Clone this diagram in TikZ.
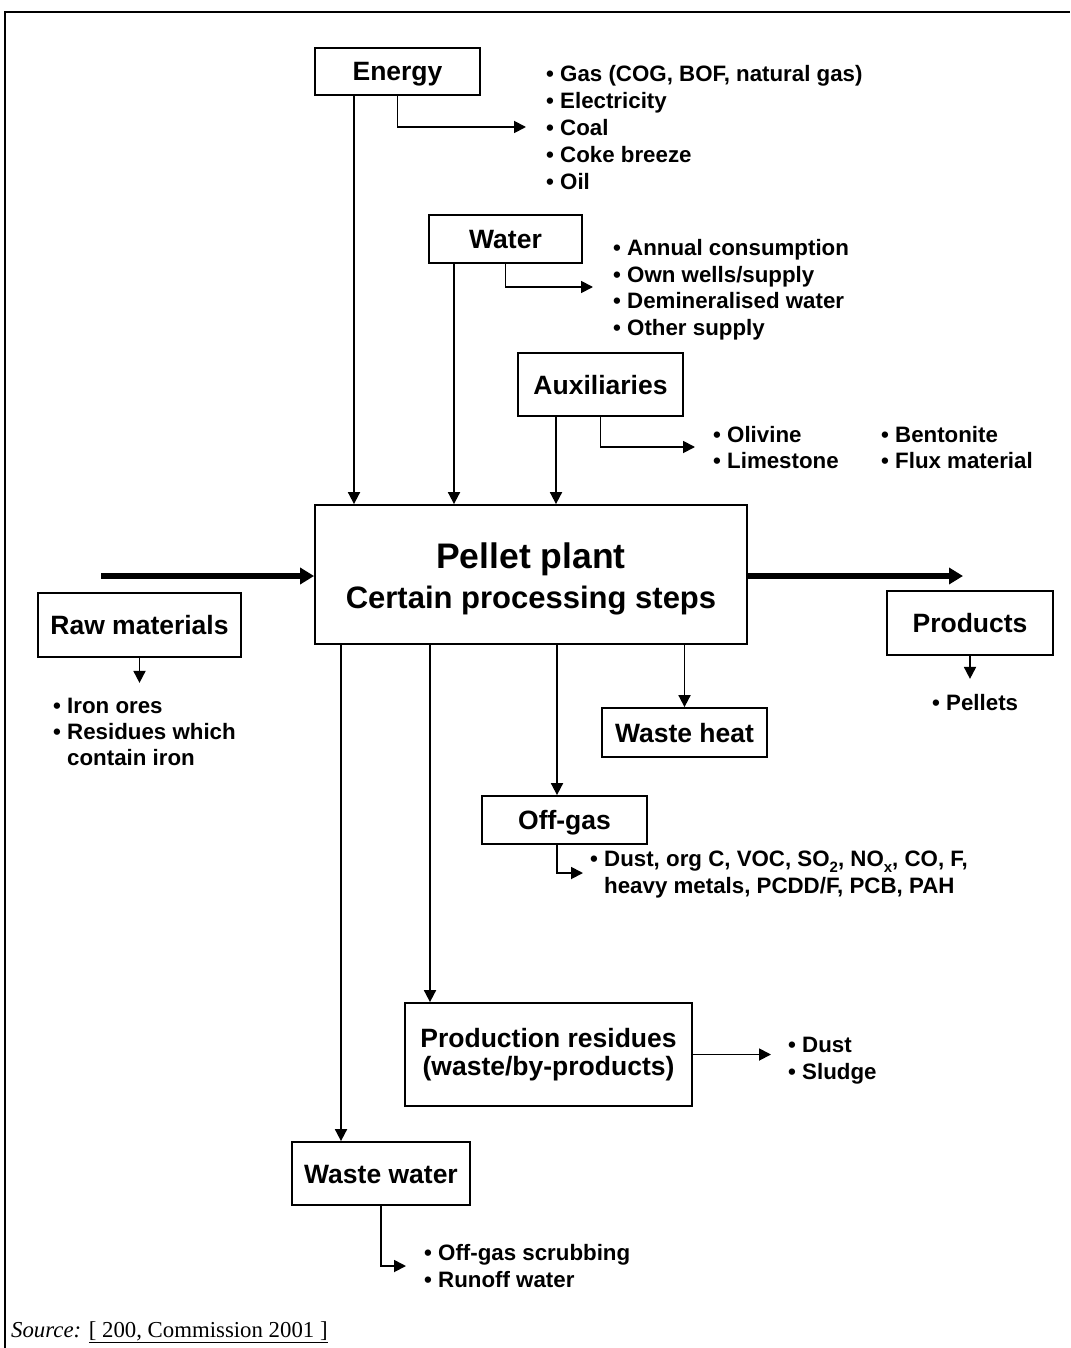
\documentclass[tikz,border=0pt]{standalone}
\usepackage{fontspec}
\setmainfont{Liberation Sans}
\newfontfamily\srcfont{Liberation Serif}
\usetikzlibrary{arrows.meta}
\newcommand{\boxfont}{\fontsize{26.5}{28}\selectfont\bfseries}
\newcommand{\bulfont}{\fontsize{22.3}{26.5}\selectfont\bfseries}
\newcommand{\lowsub}[1]{\raisebox{-0.28em}{\fontsize{15}{15}\selectfont #1}}
\tikzset{
  box/.style={draw, line width=1.8pt, inner sep=0pt, font=\boxfont, text height=19pt, text depth=0pt},
  mbox/.style={draw, line width=1.8pt, inner sep=0pt, font=\boxfont, align=center},
  bul/.style={anchor=base west, inner sep=0pt, font=\bulfont},
  lbl/.style={anchor=base, inner sep=0pt},
  arr/.style={line width=1.8pt, -{Triangle[length=12pt,width=12pt]}},
  bigarr/.style={line width=5.5pt, -{Triangle[length=14pt,width=16pt]}}
}
\begin{document}
\begin{tikzpicture}[x=1pt,y=-1pt]
\useasboundingbox (0,0) rectangle (1070,1348);
% frame
\draw[line width=2.5pt] (5,1348) -- (5,12) -- (1070,12);

% boxes
\node[box, minimum width=165pt, minimum height=47pt] (energy) at (397.5,71.5) {Energy};
\node[box, minimum width=153pt, minimum height=48pt] (water) at (505.5,239) {Water};
\node[box, minimum width=165pt, minimum height=63pt] (aux) at (600.5,384.5) {Auxiliaries};
\node[draw, line width=1.8pt, minimum width=432pt, minimum height=139pt, inner sep=0pt] (pellet) at (531,574.5) {};
\node[lbl, font=\fontsize{35.5}{38}\selectfont\bfseries] (pt1) at (531,568) {Pellet plant};
\node[lbl, font=\fontsize{31}{34}\selectfont\bfseries] (pt2) at (531,608) {Certain processing steps};
\node[box, minimum width=203pt, minimum height=64pt] (raw) at (139.5,625) {Raw materials};
\node[box, minimum width=166pt, minimum height=64pt] (products) at (970,623) {Products};
\node[box, minimum width=165pt, minimum height=49pt] (wheat) at (684.5,732.5) {Waste heat};
\node[box, minimum width=165pt, minimum height=48pt] (offgas) at (564.5,820) {Off-gas};
\node[mbox, minimum width=287pt, minimum height=103pt] (pres) at (548.5,1054.5) {Production residues\\(waste/by-products)};
\node[box, minimum width=178pt, minimum height=63pt] (wwater) at (381,1173.5) {Waste water};

% bullet texts
\node[bul] (e1t) at (546,82) {• Gas (COG, BOF, natural gas)};
\node[bul] (e2t) at (546,109) {• Electricity};
\node[bul] (e3t) at (546,136) {• Coal};
\node[bul] (e4t) at (546,163) {• Coke breeze};
\node[bul] (e5t) at (546,190) {• Oil};

\node[bul] (w1t) at (613,255) {• Annual consumption};
\node[bul] (w2t) at (613,282) {• Own wells/supply};
\node[bul] (w3t) at (613,308) {• Demineralised water};
\node[bul] (w4t) at (613,335) {• Other supply};

\node[bul] (a1t) at (713,442) {• Olivine};
\node[bul] (a2t) at (713,468) {• Limestone};
\node[bul] (a3t) at (881,442) {• Bentonite};
\node[bul] (a4t) at (881,468) {• Flux material};

\node[bul] (r1t) at (53,713) {• Iron ores};
\node[bul] (r2t) at (53,739) {• Residues which};
\node[bul] (r3t) at (53,765) {\hphantom{•} contain iron};

\node[bul] (p1t) at (932,710) {• Pellets};

\node[bul] (o1t) at (590,866) {• Dust, org C, VOC, SO\lowsub{2}, NO\lowsub{x}, CO, F,};
\node[bul] (o2t) at (590,893) {\hphantom{•} heavy metals, PCDD/F, PCB, PAH};

\node[bul] (d1t) at (788,1052) {• Dust};
\node[bul] (d2t) at (788,1079) {• Sludge};

\node[bul] (ww1t) at (424,1260) {• Off-gas scrubbing};
\node[bul] (ww2t) at (424,1287) {• Runoff water};

\node[anchor=base west, inner sep=0pt, font=\srcfont\fontsize{22.8}{26}\selectfont] (src) at (11,1337)
  {\textit{Source:} \underline{[ 200, Commission 2001 ]}};

% coordinates
\coordinate (ea) at ([xshift=-43.5pt]energy.south);
\coordinate (wa) at ([xshift=-51.5pt]water.south);
\coordinate (aa) at ([xshift=-44.5pt]aux.south);
\coordinate (pb1) at ([xshift=-190pt]pellet.south);
\coordinate (pb2) at ([xshift=-101pt]pellet.south);
\coordinate (pb3) at ([xshift=26pt]pellet.south);
\coordinate (ob) at (pb3 |- offgas.south);
\coordinate (etip) at (526,127);
\coordinate (wtip) at (593,287);
\coordinate (atip) at (695,447);
\coordinate (otip) at (583,873);
\coordinate (ptip) at (771,1054.5);
\coordinate (wwtip) at (406,1266);
\coordinate (instart) at (101,576);
\coordinate (outend) at (963,576);

% connectors
\draw[arr] (ea) -- (ea |- pellet.north);
\draw[arr] (wa) -- (wa |- pellet.north);
\draw[arr] (aa) -- (aa |- pellet.north);
\draw[arr] (energy.south) |- (etip);
\draw[arr] (water.south) |- (wtip);
\draw[arr] (aux.south) |- (atip);

\draw[bigarr] (instart) -- (instart -| pellet.west);
\draw[bigarr] (outend -| pellet.east) -- (outend);

\draw[arr] (raw.south) -- ++(0,25);
\draw[arr] (products.south) -- ++(0,23);

\draw[arr] (wheat.north |- pellet.south) -- (wheat.north);
\draw[arr] (pb3) -- (pb3 |- offgas.north);
\draw[arr] (ob) |- (otip);
\draw[arr] (pb2) -- (pb2 |- pres.north);
\draw[arr] (pres.east) -- (ptip);
\draw[arr] (pb1) -- (pb1 |- wwater.north);
\draw[arr] (wwater.south) |- (wwtip);
\end{tikzpicture}
\end{document}
